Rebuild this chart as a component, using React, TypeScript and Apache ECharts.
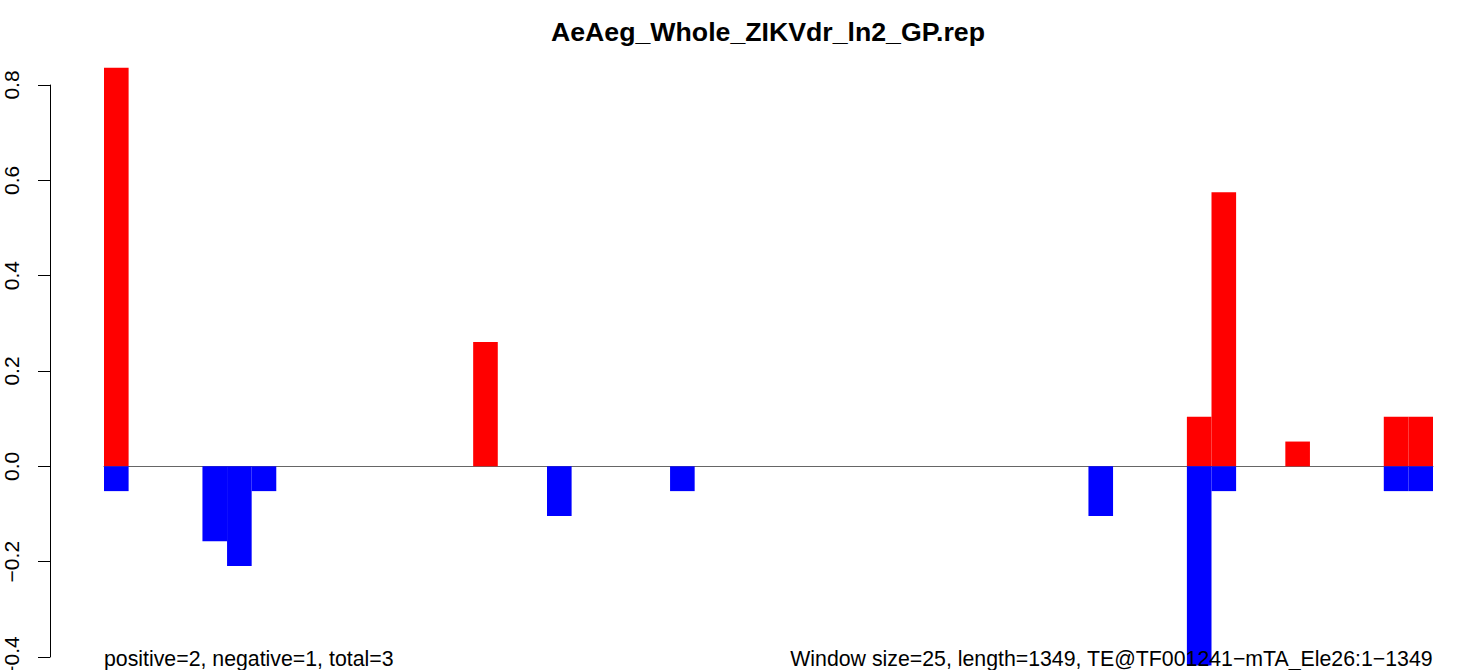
import React, { useEffect, useRef } from "react";
import * as echarts from "echarts";

const titleText = "AeAeg_Whole_ZIKVdr_ln2_GP.rep";
const leftNote = "positive=2, negative=1, total=3";
const rightNote = "Window size=25, length=1349, TE@TF001241\u2212mTA_Ele26:1\u22121349";

// 54 windows of 25 bp
const windows: string[] = [
  "1","2","3","4","5","6","7","8","9","10",
  "11","12","13","14","15","16","17","18","19","20",
  "21","22","23","24","25","26","27","28","29","30",
  "31","32","33","34","35","36","37","38","39","40",
  "41","42","43","44","45","46","47","48","49","50",
  "51","52","53","54",
];

const positive: number[] = [
  0.836, 0, 0, 0, 0, 0, 0, 0, 0, 0,
  0, 0, 0, 0, 0, 0.261, 0, 0, 0, 0,
  0, 0, 0, 0, 0, 0, 0, 0, 0, 0,
  0, 0, 0, 0, 0, 0, 0, 0, 0, 0,
  0, 0, 0, 0, 0.104, 0.575, 0, 0, 0.052, 0,
  0, 0, 0.104, 0.104,
];

const negative: number[] = [
  -0.052, 0, 0, 0, -0.157, -0.209, -0.052, 0, 0, 0,
  0, 0, 0, 0, 0, 0, 0, 0, -0.104, 0,
  0, 0, 0, -0.052, 0, 0, 0, 0, 0, 0,
  0, 0, 0, 0, 0, 0, 0, 0, 0, 0,
  -0.104, 0, 0, 0, -0.418, -0.052, 0, 0, 0, 0,
  0, 0, -0.052, -0.052,
];

const yTicks = { min: -0.4, max: 0.8, interval: 0.2 };

const FONT = "'Liberation Sans', Arial, Helvetica, sans-serif";

export default function App() {
  const ref = useRef<HTMLDivElement>(null);
  useEffect(() => {
    if (!ref.current) return;
    const chart = echarts.init(ref.current, undefined, { renderer: "svg" });
    chart.setOption({
      animation: false,
      backgroundColor: "#ffffff",
      title: {
        text: titleText,
        left: 763,
        top: 13,
        textAlign: "center",
        textStyle: { fontFamily: FONT, fontSize: 26.7, fontWeight: "bold", color: "#000" },
      },
      grid: { left: 104, right: 50, top: 85, bottom: 13, containLabel: false, outerBoundsMode: "none" },
      xAxis: {
        type: "category",
        data: windows,
        axisLine: { show: true, onZero: true, lineStyle: { color: "#666666", width: 1 } },
        axisTick: { show: false },
        axisLabel: { show: false },
        splitLine: { show: false },
      },
      yAxis: {
        type: "value",
        min: yTicks.min,
        max: yTicks.max,
        interval: yTicks.interval,
        offset: 54,
        axisLine: { show: true, lineStyle: { color: "#000", width: 1 } },
        axisTick: { show: true, length: 12, lineStyle: { color: "#000", width: 1 } },
        splitLine: { show: false },
        axisLabel: {
          rotate: 90,
          margin: 28,
          fontFamily: FONT,
          fontSize: 21,
          color: "#000",
          formatter: (v: number) => (v < 0 ? "\u2212" : "") + Math.abs(v).toFixed(1),
        },
      },
      series: [
        {
          type: "bar",
          data: positive,
          barCategoryGap: 0,
          barGap: "-100%",
          clip: false,
          itemStyle: { color: "#ff0000" },
        },
        {
          type: "bar",
          data: negative,
          barCategoryGap: 0,
          barGap: "-100%",
          clip: false,
          itemStyle: { color: "#0000ff" },
        },
      ],
      graphic: [
        {
          type: "text",
          left: 104,
          top: 648,
          z: 100,
          style: { text: leftNote, fontFamily: FONT, fontSize: 21.3, fill: "#000" },
        },
        {
          type: "text",
          right: 50,
          top: 648,
          z: 100,
          style: { text: rightNote, fontFamily: FONT, fontSize: 21.3, fill: "#000" },
        },
      ],
    });
    return () => chart.dispose();
  }, []);
  return (
    <div
      ref={ref}
      style={{ position: "fixed", left: 0, top: 0, width: 1483, height: 670, background: "#fff" }}
    />
  );
}
